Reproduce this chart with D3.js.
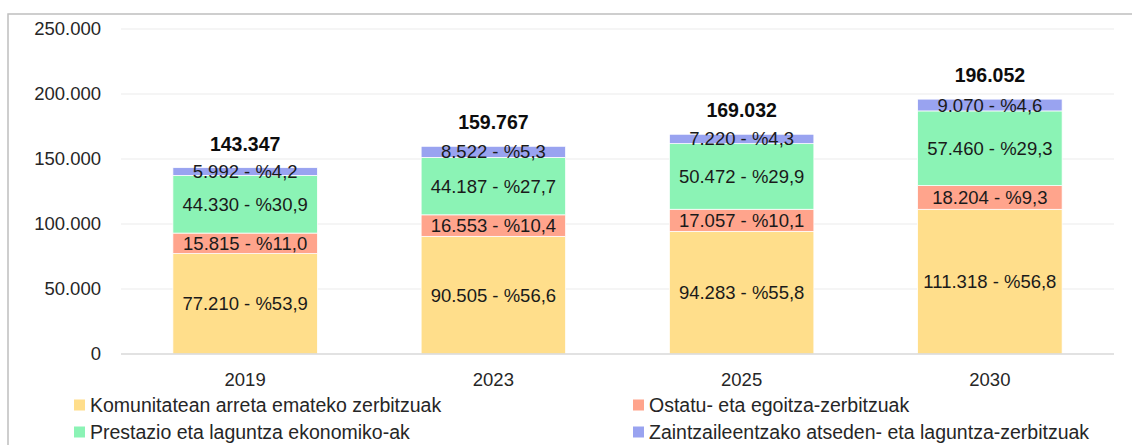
<!DOCTYPE html>
<html>
<head>
<meta charset="utf-8">
<script src="https://cdn.jsdelivr.net/npm/d3@7"></script>
<style>
  body { margin: 0; background: #fff; }
  svg { display: block; }
</style>
</head>
<body>
<div id="chart"></div>
<script>
// chart data
const years = ["2019", "2023", "2025", "2030"]
const komunitatean = [77210, 90505, 94283, 111318]
const ostatu = [15815, 16553, 17057, 18204]
const prestazio = [44330, 44187, 50472, 57460]
const zaintzaile = [5992, 8522, 7220, 9070]
const komunitateanPct = [53.9, 56.6, 55.8, 56.8]
const ostatuPct = [11.0, 10.4, 10.1, 9.3]
const prestazioPct = [30.9, 27.7, 29.9, 29.3]
const zaintzailePct = [4.2, 5.3, 4.3, 4.6]
const totals = [143347, 159767, 169032, 196052]
const yTicks = [0, 50000, 100000, 150000, 200000, 250000]

const seriesNames = [
  "Komunitatean arreta emateko zerbitzuak",
  "Ostatu- eta egoitza-zerbitzuak",
  "Prestazio eta laguntza ekonomiko-ak",
  "Zaintzaileentzako atseden- eta laguntza-zerbitzuak"
]
const seriesValues = [komunitatean, ostatu, prestazio, zaintzaile]
const seriesPct = [komunitateanPct, ostatuPct, prestazioPct, zaintzailePct]
const colors = ["#FFDE8B", "#FFA48C", "#8BF3B5", "#99A3F0"]

const width = 1132
const height = 445
const font = "'Liberation Sans', Arial, sans-serif"

const locale = d3.formatLocale({ decimal: ",", thousands: ".", grouping: [3], currency: ["", ""] })
const fmtNum = locale.format(",d")
const fmtPct = locale.format(".1f")

const svg = d3.select("#chart").append("svg")
  .attr("width", width)
  .attr("height", height)

// outer frame (cut by the window on right and bottom)
svg.append("rect")
  .attr("x", 8)
  .attr("y", 14)
  .attr("width", width + 20)
  .attr("height", height + 20)
  .attr("fill", "none")
  .attr("stroke", "#bfbfbf")
  .attr("stroke-width", 1.5)

const x = d3.scaleBand()
  .domain(years)
  .range([121, 1114])
  .paddingInner(0.418)
  .paddingOuter(0.209)

const y = d3.scaleLinear()
  .domain([0, 250000])
  .range([354, 29])

// gridlines
svg.append("g")
  .selectAll("line")
  .data(yTicks.slice(1))
  .join("line")
  .attr("x1", 121)
  .attr("x2", 1114)
  .attr("y1", d => y(d))
  .attr("y2", d => y(d))
  .attr("stroke", "#ebebeb")
  .attr("stroke-width", 1)

// y axis labels
const yAxis = svg.append("g")
  .attr("transform", "translate(101,0)")
  .call(d3.axisLeft(y).tickValues(yTicks).tickSize(0).tickPadding(0).tickFormat(d => fmtNum(d)))
yAxis.select(".domain").remove()
yAxis.selectAll("text")
  .attr("font-family", font)
  .attr("font-size", 18.5)
  .attr("fill", "#262626")

// stacked data
const rows = years.map((yr, i) => {
  const row = { year: yr }
  seriesValues.forEach((vals, s) => { row["s" + s] = vals[i] })
  return row
})
const keys = seriesValues.map((_, s) => "s" + s)
const stacked = d3.stack().keys(keys)(rows)

const layers = svg.append("g")
  .selectAll("g")
  .data(stacked)
  .join("g")
  .attr("fill", (d, i) => colors[i])

layers.selectAll("rect")
  .data(d => d)
  .join("rect")
  .attr("x", d => x(d.data.year))
  .attr("width", x.bandwidth())
  .attr("y", d => y(d[1]))
  .attr("height", d => y(d[0]) - y(d[1]))
  .attr("stroke", "#fff")
  .attr("stroke-width", 0.75)

// baseline
svg.append("line")
  .attr("x1", 121)
  .attr("x2", 1114)
  .attr("y1", y(0))
  .attr("y2", y(0))
  .attr("stroke", "#d9d9d9")
  .attr("stroke-width", 1.5)

// segment labels
stacked.forEach((layer, s) => {
  svg.append("g")
    .selectAll("text")
    .data(layer)
    .join("text")
    .attr("x", d => x(d.data.year) + x.bandwidth() / 2)
    .attr("y", d => (y(d[0]) + y(d[1])) / 2)
    .attr("dy", "0.35em")
    .attr("text-anchor", "middle")
    .attr("font-family", font)
    .attr("font-size", 18.5)
    .attr("fill", "#1a1a1a")
    .text((d, i) => `${fmtNum(seriesValues[s][i])} - %${fmtPct(seriesPct[s][i])}`)
})

// totals on top
svg.append("g")
  .selectAll("text")
  .data(years)
  .join("text")
  .attr("x", d => x(d) + x.bandwidth() / 2)
  .attr("y", (d, i) => y(totals[i]) - 17)
  .attr("text-anchor", "middle")
  .attr("font-family", font)
  .attr("font-size", 19.5)
  .attr("font-weight", "bold")
  .attr("fill", "#0d0d0d")
  .text((d, i) => fmtNum(totals[i]))

// category labels
svg.append("g")
  .selectAll("text")
  .data(years)
  .join("text")
  .attr("x", d => x(d) + x.bandwidth() / 2)
  .attr("y", 380)
  .attr("dy", "0.35em")
  .attr("text-anchor", "middle")
  .attr("font-family", font)
  .attr("font-size", 18.5)
  .attr("fill", "#262626")
  .text(d => d)

// legend, two columns, two rows
const legendCols = [74, 633]
const legendRows = [405, 432]
const legend = svg.append("g")
  .selectAll("g")
  .data(seriesNames)
  .join("g")
  .attr("transform", (d, i) => `translate(${legendCols[i % 2]},${legendRows[Math.floor(i / 2)]})`)

legend.append("rect")
  .attr("x", 0)
  .attr("y", -5.5)
  .attr("width", 11)
  .attr("height", 11)
  .attr("fill", (d, i) => colors[i])

legend.append("text")
  .attr("x", 16)
  .attr("dy", "0.35em")
  .attr("font-family", font)
  .attr("font-size", 19.5)
  .attr("fill", "#262626")
  .text(d => d)
</script>
</body>
</html>
